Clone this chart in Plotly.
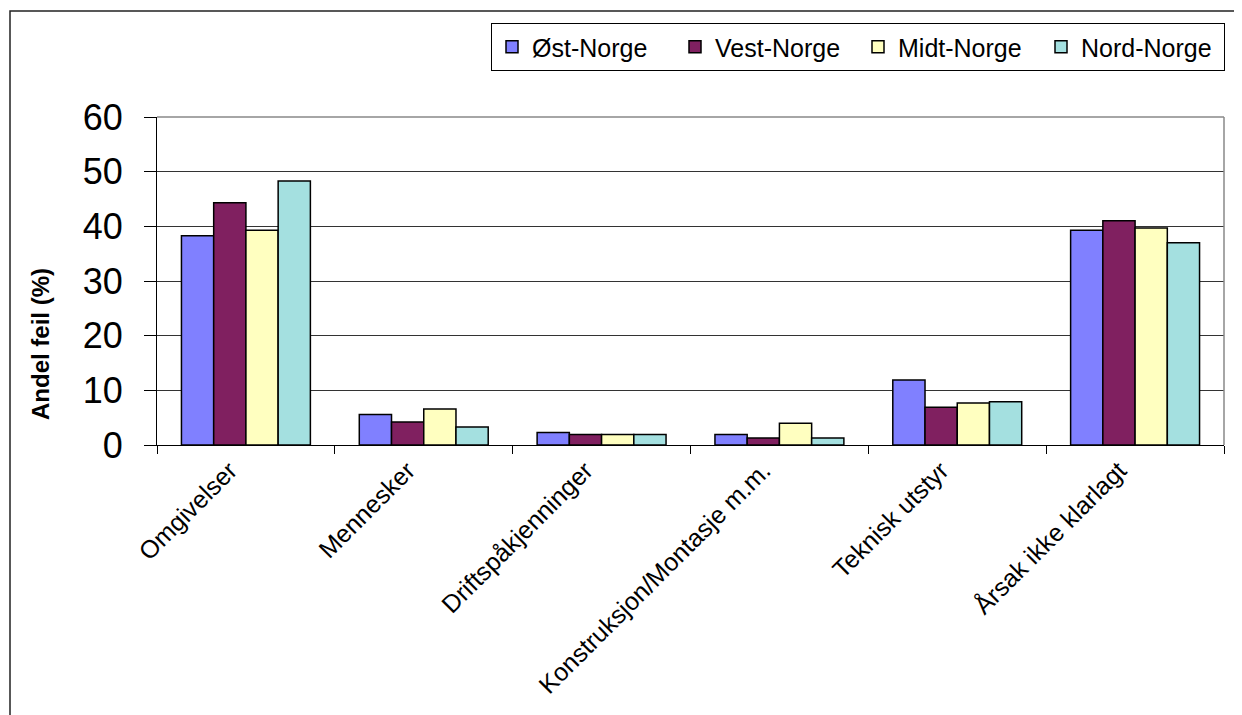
import plotly.graph_objects as go

categories = ["Omgivelser", "Mennesker", "Driftspåkjenninger",
              "Konstruksjon/Montasje m.m.", "Teknisk utstyr", "Årsak ikke klarlagt"]
series_names = ["Øst-Norge", "Vest-Norge", "Midt-Norge", "Nord-Norge"]
ost = [38.3, 5.6, 2.3, 1.9, 11.9, 39.3]
vest = [44.3, 4.2, 1.9, 1.3, 6.9, 41.0]
midt = [39.3, 6.6, 1.9, 4.0, 7.7, 39.7]
nord = [48.3, 3.3, 1.9, 1.3, 7.9, 37.0]
colors = ["#8080FF", "#802060", "#FFFFC0", "#A4E0E0"]
y_ticks = [0, 10, 20, 30, 40, 50, 60]
y_title = "Andel feil (%)"

FONT = "Liberation Sans, Arial, sans-serif"

fig = go.Figure()
for name, vals, col in zip(series_names, [ost, vest, midt, nord], colors):
    fig.add_trace(go.Bar(name=name, x=categories, y=vals,
                         marker=dict(color=col, line=dict(color="black", width=1.5))))

# page body has an 8px margin; compensate so the plot lands where the reference has it
OFF = 8
W, H = 1242, 715
L, T = 157 - OFF, 117 - OFF
pw, ph = 1067, 328
R = W - L - pw
B = H - T - ph

def px_x(x):
    return (x - OFF - L) / pw

def px_y(y):
    return (T + ph - (y - OFF)) / ph

fig.update_layout(
    width=W, height=H,
    margin=dict(l=L, r=R, t=T, b=B, autoexpand=False),
    paper_bgcolor="white", plot_bgcolor="white",
    barmode="group", bargap=0.275, bargroupgap=0,
    font=dict(family=FONT, color="black"),
    showlegend=True,
    legend=dict(orientation="h", x=px_x(1225), xanchor="right", y=px_y(23), yanchor="top",
                bordercolor="black", borderwidth=1, bgcolor="white",
                font=dict(size=25, family=FONT), itemwidth=30,
                traceorder="normal", entrywidth=138, entrywidthmode="pixels"),
    xaxis=dict(type="category", showline=True, linecolor="black", linewidth=1,
               ticks="outside", tickson="boundaries", ticklen=8, tickcolor="black",
               tickangle=-45, tickfont=dict(size=25, family=FONT),
               ticklabelshift=-16,
               showgrid=False, zeroline=False),
    yaxis=dict(range=[0, 60], tickvals=y_ticks, showline=True, linecolor="black",
               linewidth=1, ticks="outside", ticklen=12, tickcolor="black",
               tickfont=dict(size=36, family=FONT), ticklabelstandoff=14,
               showgrid=True, gridcolor="#333333", gridwidth=1, zeroline=False),
    annotations=[
        dict(text="<b>" + y_title + "</b>", xref="paper", yref="paper",
             x=px_x(40), y=px_y(344), xanchor="center", yanchor="middle",
             textangle=-90, showarrow=False, font=dict(size=24, family=FONT)),
    ],
    shapes=[
        dict(type="rect", xref="paper", yref="paper",
             x0=px_x(10), y0=px_y(11), x1=px_x(1400), y1=px_y(900),
             line=dict(color="#222222", width=1.5), layer="below"),
        dict(type="line", xref="paper", yref="paper", x0=0, x1=1, y0=1, y1=1,
             line=dict(color="#888888", width=1.5), layer="above"),
        dict(type="line", xref="paper", yref="paper", x0=1, x1=1, y0=0, y1=1,
             line=dict(color="#888888", width=1.5), layer="above"),
    ],
)

fig.write_html("out.html")
